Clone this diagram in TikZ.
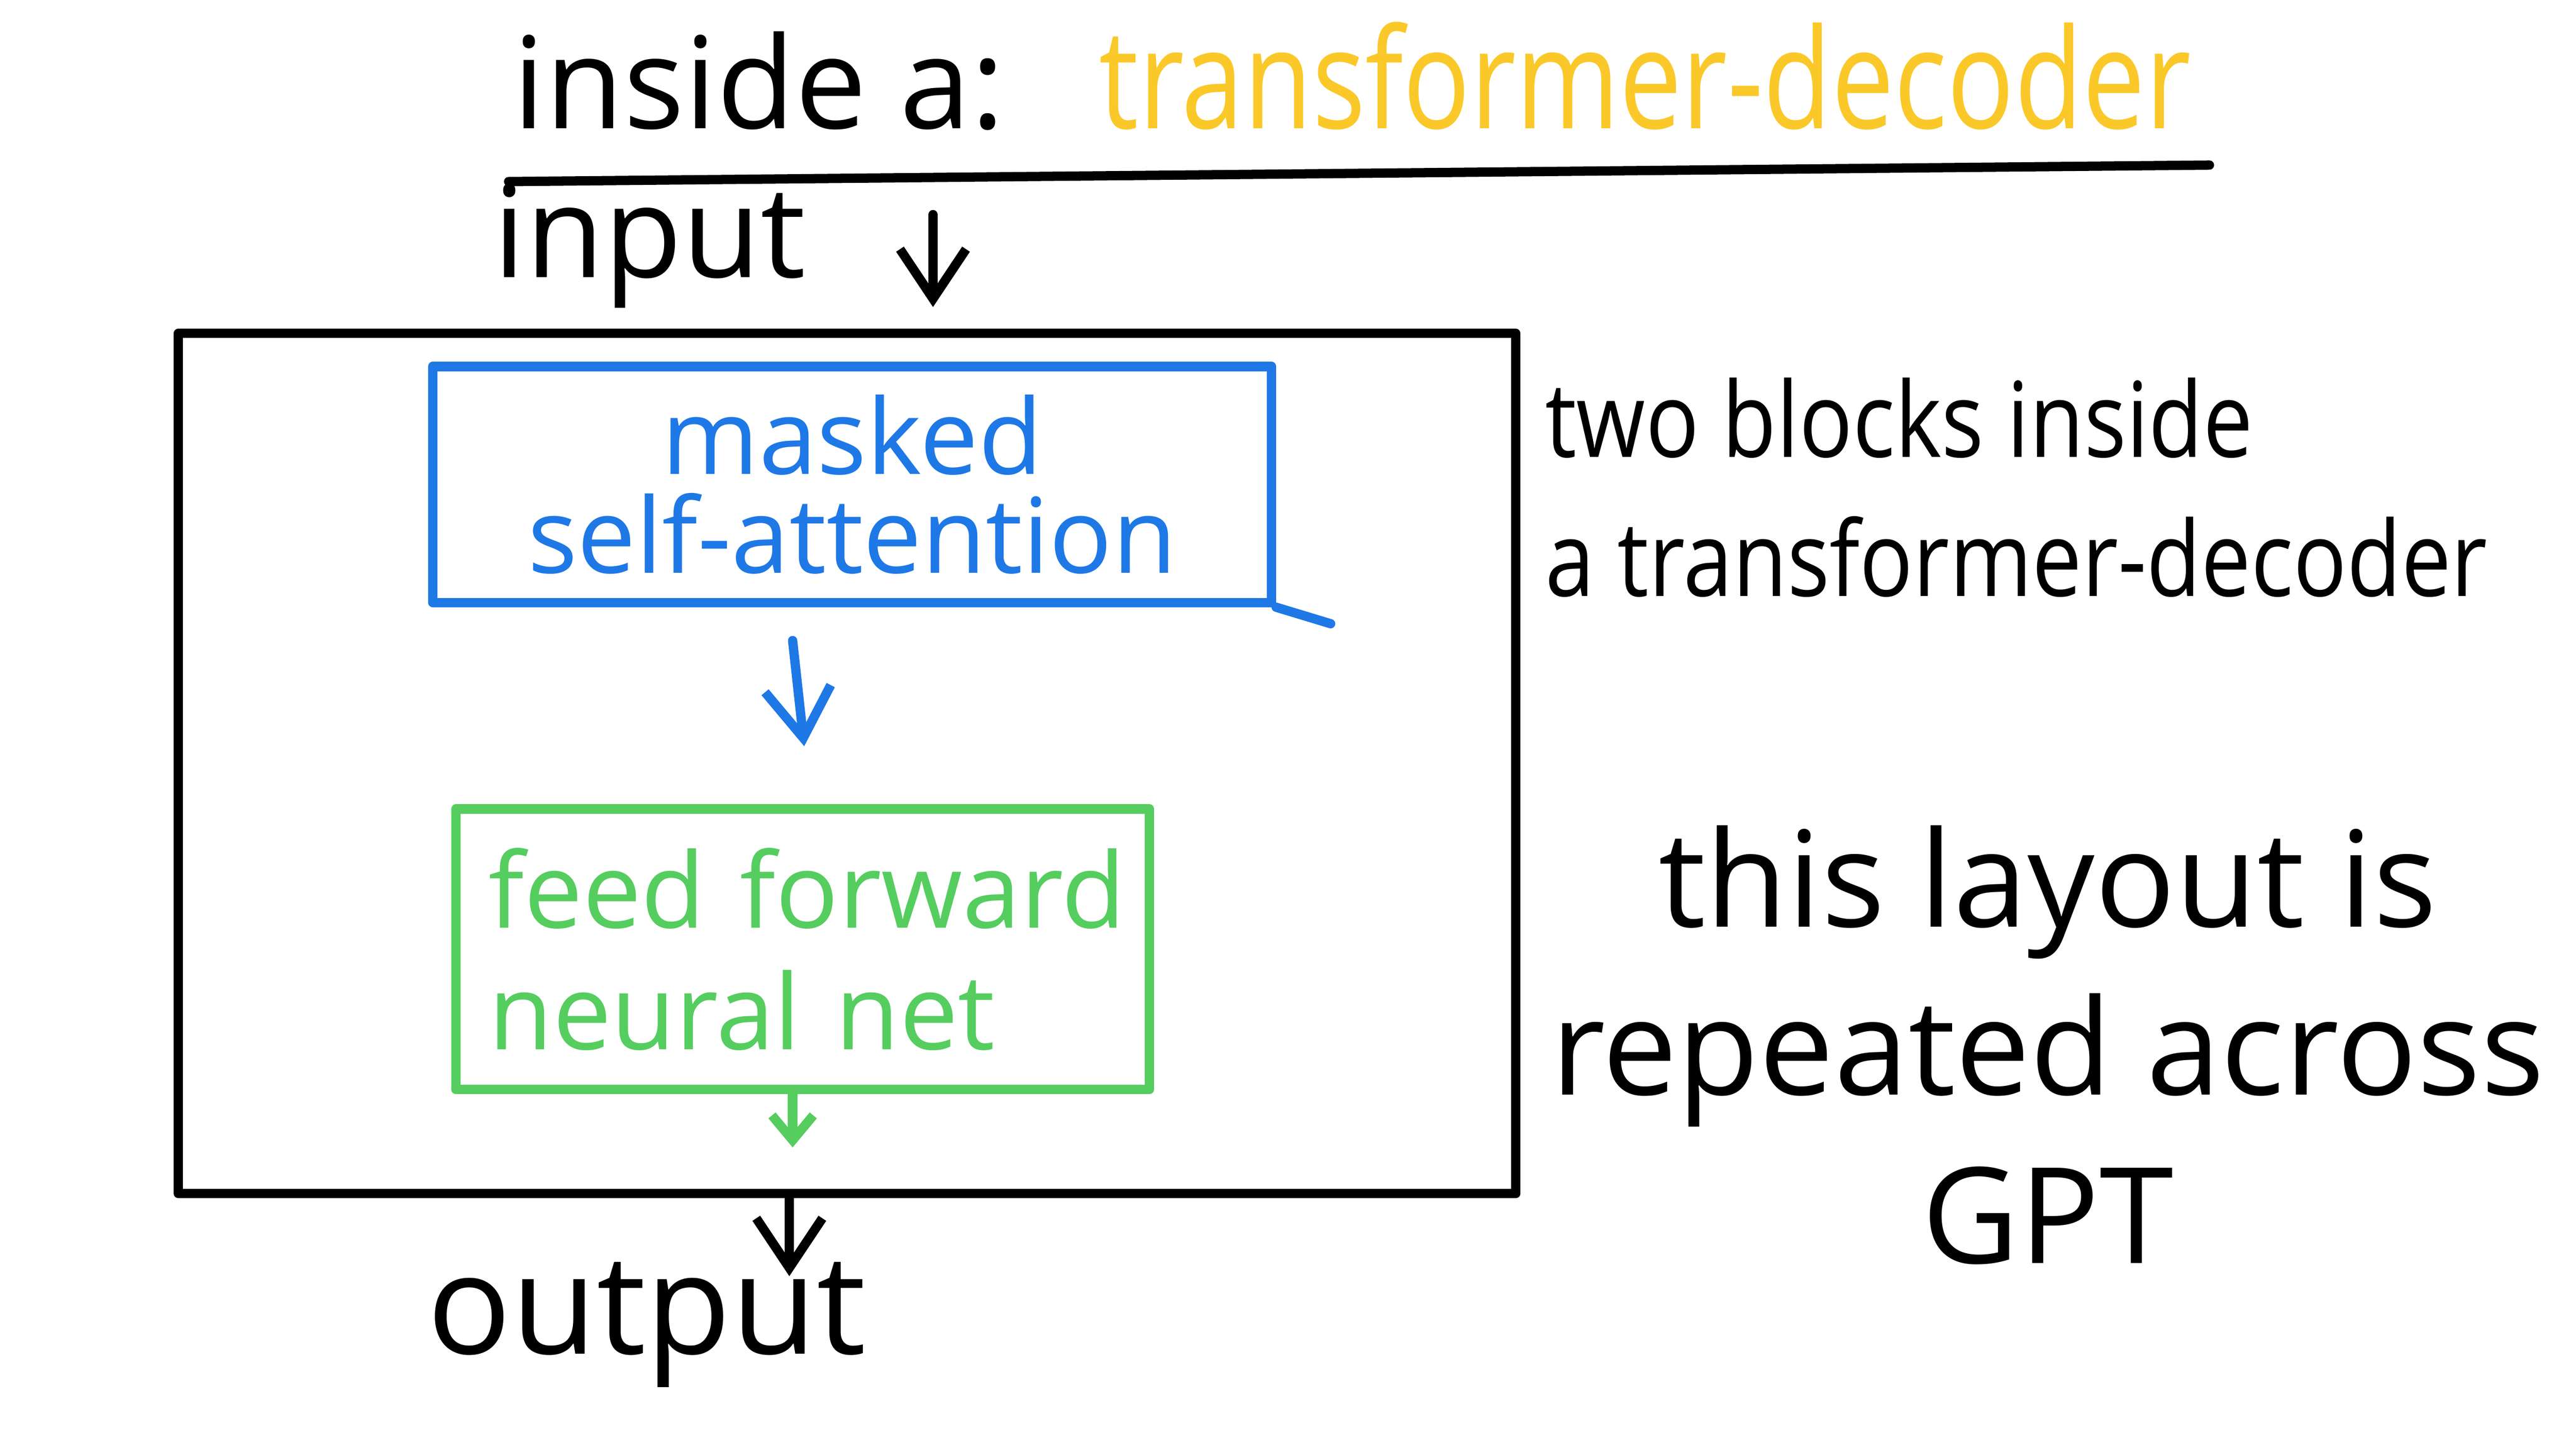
\documentclass[tikz,border=0pt]{standalone}
\usepackage{fontspec}
\setmainfont{Open Sans}
\newfontfamily\narrowfont[FakeStretch=0.8]{Open Sans}
\newfontfamily\slimfont[FakeStretch=0.85]{Open Sans}
\usetikzlibrary{positioning, arrows.meta}
\definecolor{penblue}{RGB}{30,120,230}
\definecolor{pengreen}{RGB}{85,205,95}
\definecolor{penyellow}{RGB}{250,200,40}
\begin{document}
\begin{tikzpicture}[
    ink/.style={line width=1.6pt, line cap=round, line join=round},
    arrow/.style={ink, -{Straight Barb[length=3mm, width=4mm]}},
    big/.style={font=\fontsize{22}{30}\selectfont, inner sep=0pt},
    mid/.style={font=\fontsize{18}{17}\selectfont, inner sep=0pt, align=left}
]
    \useasboundingbox (0,0) rectangle (15.6,8.78);
    % title
    \node[big, anchor=base west] (title) at (3.1,8.0) {inside a:};
    \node[big, font=\fontsize{24}{30}\narrowfont, anchor=base west, text=penyellow] (tname) at (6.65,8.0) {transformer-decoder};
    \coordinate (ul1) at (3.08,7.68);
    \coordinate (ul2) at (13.38,7.78);
    \draw[ink] (ul1) -- (ul2);
    \node[big, anchor=base west] (input) at (2.98,7.1) {input};
    \coordinate (in1) at (5.65,7.48);
    \coordinate (in2) at (5.65,6.92);
    \draw[arrow] (in1) -- (in2);
    % outer decoder block
    \draw[ink] (1.08,6.76) rectangle (9.18,1.55);
    % masked self-attention
    \node[draw=penblue, ink, minimum width=5.08cm, minimum height=1.43cm, text=penblue, mid, align=center]
        (attn) at (5.16,5.845) {masked\\self-attention};
    \draw[ink, penblue] (attn.south east) -- ++(0.33,-0.1);
    \coordinate (a0) at (4.8,4.9);
    \coordinate (a1) at (4.87,4.26);
    \draw[arrow, penblue] (a0) -- (a1);
    % feed forward
    \node[draw=pengreen, ink, minimum width=4.18cm, minimum height=1.7cm, text=pengreen, mid,
        font=\fontsize{18}{21}\selectfont, text width=3.8cm, inner sep=0.2cm] (ffn) at (4.86,3.03)
        {\mbox{feed forward}\\\mbox{neural net}};
    \coordinate (f1) at (4.8,1.83);
    \draw[ink, pengreen, -{Straight Barb[length=1.5mm, width=2.5mm]}] (ffn.south -| f1) -- (f1);
    % output
    \coordinate (out1) at (4.78,1.53);
    \coordinate (out2) at (4.78,1.05);
    \draw[arrow] (out1) -- (out2);
    \node[big, font=\fontsize{24}{30}\selectfont, anchor=base west] (output) at (2.58,0.58) {output};
    % notes
    \node[mid, font=\fontsize{18}{24}\slimfont, anchor=north west] (note1) at (9.35,6.5) {two blocks inside\\a transformer-decoder};
    \node[big, font=\fontsize{23}{29}\selectfont, align=center] (note2) at (12.4,2.45) {this layout is\\repeated across\\GPT};
\end{tikzpicture}
\end{document}
